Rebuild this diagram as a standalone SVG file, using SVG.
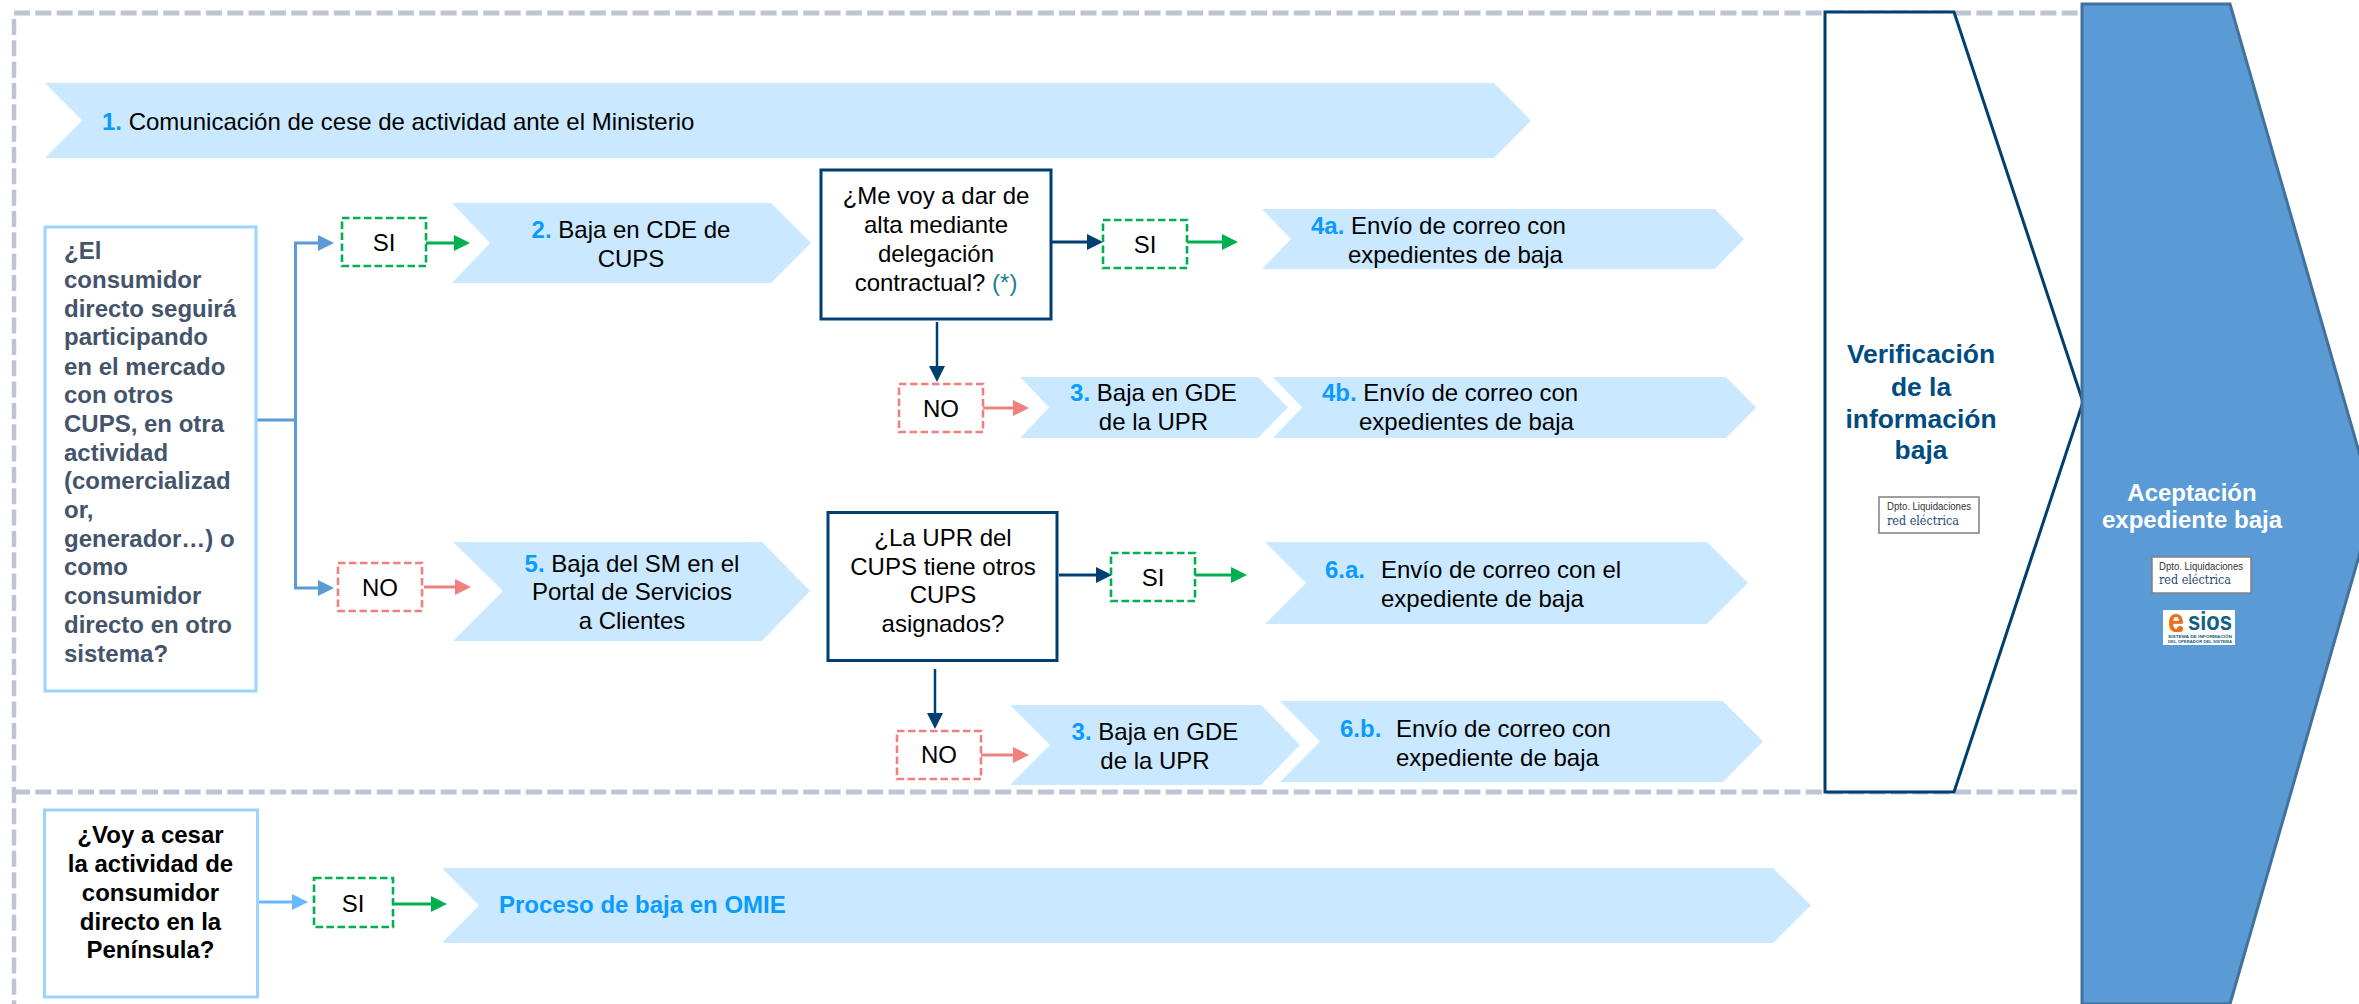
<svg xmlns="http://www.w3.org/2000/svg" width="2359" height="1004" viewBox="0 0 2359 1004">
<style>
text{font-family:"Liberation Sans",Arial,sans-serif;font-size:24px;fill:#000}
.c{text-anchor:middle}
.b{font-weight:700}
.n{font-weight:700;fill:#0A9BFF}
.dv{fill:none;stroke:#BFC4D4;stroke-width:5;stroke-dasharray:16 5.33}
.chev{fill:#CAE8FF}
.q{fill:#fff;stroke:#99D5FF;stroke-width:3}
.d{fill:#fff;stroke:#003F72;stroke-width:3}
.si{fill:none;stroke:#00B050;stroke-width:2.6;stroke-dasharray:7.5 3.5}
.no{fill:none;stroke:#EF8080;stroke-width:2.6;stroke-dasharray:7.5 3.5}
.l{fill:none;stroke-width:3}
.bl{stroke:#5B9BD5;marker-end:url(#hb)}
.lb{stroke:#66B8FF;marker-end:url(#hl)}
.nv{stroke:#003F72;marker-end:url(#hn)}
.gr{stroke:#00B050;marker-end:url(#hg)}
.rd{stroke:#EF8080;marker-end:url(#hr)}
.logo{fill:#fff;stroke:#808080;stroke-width:1.5}
.dp{font-size:11px;fill:#333}
.re{font-family:"DejaVu Serif",serif;font-size:12.5px;fill:#1F4A75}
.gq{font-weight:700;fill:#44546A}
.v{font-weight:700;font-size:26.4px;fill:#004B80;text-anchor:middle}
</style>
<defs>
<marker id="hb" markerUnits="userSpaceOnUse" markerWidth="16" markerHeight="16" refX="0" refY="8" orient="auto" overflow="visible"><path d="M0 0L16 8L0 16Z" fill="#5B9BD5"/></marker>
<marker id="hl" markerUnits="userSpaceOnUse" markerWidth="16" markerHeight="16" refX="0" refY="8" orient="auto" overflow="visible"><path d="M0 0L16 8L0 16Z" fill="#66B8FF"/></marker>
<marker id="hn" markerUnits="userSpaceOnUse" markerWidth="16" markerHeight="16" refX="0" refY="8" orient="auto" overflow="visible"><path d="M0 0L16 8L0 16Z" fill="#003F72"/></marker>
<marker id="hg" markerUnits="userSpaceOnUse" markerWidth="16" markerHeight="16" refX="0" refY="8" orient="auto" overflow="visible"><path d="M0 0L16 8L0 16Z" fill="#00B050"/></marker>
<marker id="hr" markerUnits="userSpaceOnUse" markerWidth="16" markerHeight="16" refX="0" refY="8" orient="auto" overflow="visible"><path d="M0 0L16 8L0 16Z" fill="#EF8080"/></marker>
</defs>
<rect width="2359" height="1004" fill="#fff"/>
<g id="dividers">
<path class="dv" d="M14 13H2078"/>
<path class="dv" d="M14 792H2077"/>
<path class="dv" d="M14 19V1004" style="stroke-width:4.5"/>
</g>
<g id="connectors">
<path class="l bl" d="M256 420H295.500V243H318"/>
<path class="l bl" d="M295.500 420V588H318"/>
<path class="l gr" d="M426 243H454"/>
<path class="l rd" d="M424 587H455"/>
<path class="l nv" d="M1051 242H1087"/>
<path class="l gr" d="M1187 242H1222"/>
<path class="l nv" d="M937 322V366" style="stroke-width:2.5"/>
<path class="l rd" d="M983 408H1013"/>
<path class="l nv" d="M1059 575H1096"/>
<path class="l gr" d="M1195 575H1231"/>
<path class="l nv" d="M935 669V713" style="stroke-width:2.5"/>
<path class="l rd" d="M981 755H1013"/>
<path class="l lb" d="M257 902H292"/>
<path class="l gr" d="M393 904H431"/>
</g>
<g id="step1"><polygon class="chev" points="45,83 1494,83 1531,120.500 1494,158 45,158 82,120.500"/>
<text x="102" y="130"><tspan class="n">1.</tspan> Comunicación de cese de actividad ante el Ministerio</text></g>
<g id="q-consumidor"><rect class="q" x="45" y="227" width="211" height="464"/>
<text class="gq" x="64" y="259">¿El</text>
<text class="gq" x="64" y="288">consumidor</text>
<text class="gq" x="64" y="317">directo seguirá</text>
<text class="gq" x="64" y="345">participando</text>
<text class="gq" x="64" y="374.500">en el mercado</text>
<text class="gq" x="64" y="403">con otros</text>
<text class="gq" x="64" y="432">CUPS, en otra</text>
<text class="gq" x="64" y="461">actividad</text>
<text class="gq" x="64" y="489">(comercializad</text>
<text class="gq" x="64" y="518">or,</text>
<text class="gq" x="64" y="547">generador…) o</text>
<text class="gq" x="64" y="575">como</text>
<text class="gq" x="64" y="604">consumidor</text>
<text class="gq" x="64" y="633">directo en otro</text>
<text class="gq" x="64" y="662">sistema?</text>
</g>
<g id="si-1"><rect class="si" x="342" y="218" width="84" height="48"/><text class="c" x="384" y="251">SI</text></g>
<g id="no-1"><rect class="no" x="338" y="563" width="84" height="48"/><text class="c" x="380" y="596">NO</text></g>
<g id="step2"><polygon class="chev" points="452,203 771,203 811,243 771,283 452,283 490,243"/>
<text class="c" x="631" y="238"><tspan class="n">2.</tspan> Baja en CDE de</text><text class="c" x="631" y="267">CUPS</text></g>
<g id="q-delegacion"><rect class="d" x="821" y="170" width="230" height="149"/>
<text class="c" x="936" y="204">¿Me voy a dar de</text><text class="c" x="936" y="233">alta mediante</text><text class="c" x="936" y="262">delegación</text><text class="c" x="936" y="291">contractual? <tspan style="fill:#1B7F8C">(*)</tspan></text></g>
<g id="si-2"><rect class="si" x="1103" y="220" width="84" height="48"/><text class="c" x="1145" y="253">SI</text></g>
<g id="step4a"><polygon class="chev" points="1262,209 1715,209 1744,239 1715,269 1262,269 1291,239"/>
<text x="1311" y="234"><tspan class="n">4a.</tspan> Envío de correo con</text><text x="1348" y="263">expedientes de baja</text></g>
<g id="no-2"><rect class="no" x="899" y="384" width="84" height="48"/><text class="c" x="941" y="417">NO</text></g>
<g id="step3a"><polygon class="chev" points="1020,377 1258,377 1288,407.500 1258,438 1020,438 1049,407.500"/>
<text class="c" x="1153.500" y="401"><tspan class="n">3.</tspan> Baja en GDE</text><text class="c" x="1153.500" y="430">de la UPR</text></g>
<g id="step4b"><polygon class="chev" points="1273,377 1726,377 1756,407.500 1726,438 1273,438 1302,407.500"/>
<text x="1322" y="401"><tspan class="n">4b.</tspan> Envío de correo con</text><text x="1359" y="430">expedientes de baja</text></g>
<g id="step5"><polygon class="chev" points="453,542 762,542 810,591 762,641 453,641 503,591"/>
<text class="c" x="632" y="572"><tspan class="n">5.</tspan> Baja del SM en el</text><text class="c" x="632" y="600">Portal de Servicios</text><text class="c" x="632" y="629">a Clientes</text></g>
<g id="q-upr"><rect class="d" x="828" y="512.500" width="229" height="148"/>
<text class="c" x="943" y="546">¿La UPR del</text><text class="c" x="943" y="575">CUPS tiene otros</text><text class="c" x="943" y="603">CUPS</text><text class="c" x="943" y="632">asignados?</text></g>
<g id="si-3"><rect class="si" x="1111" y="553" width="84" height="48"/><text class="c" x="1153" y="586">SI</text></g>
<g id="step6a"><polygon class="chev" points="1265,542 1707,542 1748,583 1707,624 1265,624 1306,583"/>
<text x="1325" y="578"><tspan class="n">6.a.</tspan></text><text x="1381" y="578">Envío de correo con el</text><text x="1381" y="607">expediente de baja</text></g>
<g id="no-3"><rect class="no" x="897" y="731" width="84" height="48"/><text class="c" x="939" y="763">NO</text></g>
<g id="step3b"><polygon class="chev" points="1010,705 1261,705 1300,745 1261,785 1010,785 1050,745"/>
<text class="c" x="1155" y="740"><tspan class="n">3.</tspan> Baja en GDE</text><text class="c" x="1155" y="769">de la UPR</text></g>
<g id="step6b"><polygon class="chev" points="1280,701 1723,701 1763,741.500 1723,782 1280,782 1320,741.500"/>
<text x="1340" y="737"><tspan class="n">6.b.</tspan></text><text x="1396" y="737">Envío de correo con</text><text x="1396" y="766">expediente de baja</text></g>
<g id="q-peninsula"><rect class="q" x="44.500" y="810" width="213" height="187"/>
<text class="c b" x="150.500" y="843">¿Voy a cesar</text><text class="c b" x="150.500" y="872">la actividad de</text><text class="c b" x="150.500" y="901">consumidor</text><text class="c b" x="150.500" y="930">directo en la</text><text class="c b" x="150.500" y="958">Península?</text></g>
<g id="si-4"><rect class="si" x="314" y="878" width="79" height="49"/><text class="c" x="353" y="912">SI</text></g>
<g id="step-omie"><polygon class="chev" points="442,868 1773,868 1811,905.500 1773,943 442,943 479,905.500"/>
<text x="499" y="913"><tspan class="n">Proceso de baja en OMIE</tspan></text></g>
<g id="verificacion"><polygon points="1825,12 1954,12 2083,402 1954,792 1825,792" fill="#fff" stroke="#003F72" stroke-width="3"/>
<text class="v" x="1921" y="363">Verificación</text><text class="v" x="1921" y="396">de la</text><text class="v" x="1921" y="428">información</text><text class="v" x="1921" y="459">baja</text>
<rect class="logo" x="1879" y="497" width="100" height="36"/>
<text class="dp" x="1887" y="510" textLength="84" lengthAdjust="spacingAndGlyphs">Dpto. Liquidaciones</text>
<text class="re" x="1887" y="525" textLength="72" lengthAdjust="spacingAndGlyphs">red eléctrica</text></g>
<g id="aceptacion"><polygon points="2082,4 2230,4 2374,504 2230,1004 2082,1004" fill="#5B9BD5" stroke="#41719C" stroke-width="3"/>
<text class="c b" style="fill:#fff" x="2192" y="501">Aceptación</text><text class="c b" style="fill:#fff" x="2192" y="528">expediente baja</text>
<rect class="logo" x="2152" y="557" width="99" height="36"/>
<text class="dp" x="2159" y="570" textLength="84" lengthAdjust="spacingAndGlyphs">Dpto. Liquidaciones</text>
<text class="re" x="2159" y="584" textLength="72" lengthAdjust="spacingAndGlyphs">red eléctrica</text>
<rect x="2163" y="610" width="72" height="35" fill="#fff"/>
<text class="b" style="font-size:33px;fill:#E8701A" x="2168" y="632" textLength="16" lengthAdjust="spacingAndGlyphs">e</text>
<circle cx="2180" cy="629" r="3" fill="#E8701A"/>
<text class="b" style="font-size:25px;fill:#13607F" x="2188" y="630" textLength="44" lengthAdjust="spacingAndGlyphs">sios</text>
<text class="b" style="font-size:4.4px;fill:#13607F" x="2168" y="638" textLength="64" lengthAdjust="spacingAndGlyphs">SISTEMA DE INFORMACIÓN</text>
<text class="b" style="font-size:4.4px;fill:#13607F" x="2168" y="642.500" textLength="64" lengthAdjust="spacingAndGlyphs">DEL OPERADOR DEL SISTEMA</text></g>
</svg>
